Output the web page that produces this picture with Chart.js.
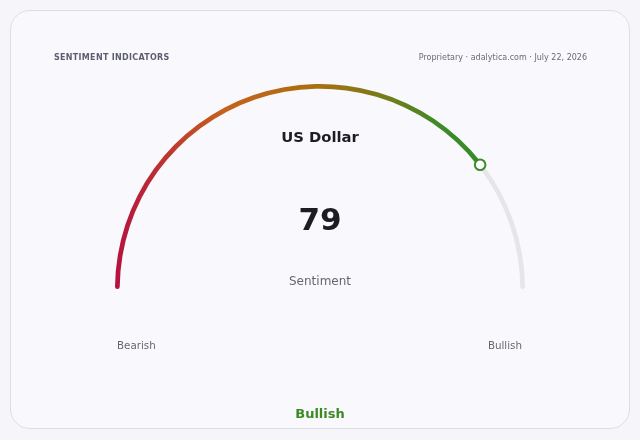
<!DOCTYPE html>
<html>
<head>
<meta charset="utf-8">
<script src="https://cdn.jsdelivr.net/npm/chart.js@4"></script>
<style>
  html, body { margin: 0; padding: 0; width: 640px; height: 440px; background: #f6f6fa; overflow: hidden; }
  body { position: relative; font-family: "DejaVu Sans", sans-serif; }
  .card { position: absolute; left: 10px; top: 10px; width: 618px; height: 417px;
          border: 1px solid #dddde6; border-radius: 20px; background: #f9f9fd; }
  #wrap { position: absolute; left: 0; top: 0; width: 640px; height: 440px; }
  .txt { position: absolute; white-space: nowrap; }
  .hdr { left: 54px; top: 53px; font-size: 8px; font-weight: bold; color: #5d5d70; letter-spacing: 0.3px; }
  .src { right: 53px; top: 53px; font-size: 8px; color: #6a6a78; }
  .name { left: 0; width: 640px; top: 128px; text-align: center; font-size: 14.8px; font-weight: bold; color: #1c1c22; }
  .val { left: 0; width: 640px; top: 201px; text-align: center; font-size: 31px; font-weight: bold; color: #1c1c22; }
  .lbl { left: 0; width: 640px; top: 274px; text-align: center; font-size: 12px; color: #66666e; }
  .lo { left: 117px; top: 339px; font-size: 10.3px; color: #66666e; }
  .hi { right: 118px; top: 339px; font-size: 10.3px; color: #66666e; }
  .verdict { left: 0; width: 640px; top: 406px; text-align: center; font-size: 13px; font-weight: bold; color: #3b8a22; }
</style>
</head>
<body>
<div class="card"></div>
<div id="wrap"><canvas id="gauge"></canvas></div>
<div class="txt hdr">SENTIMENT INDICATORS</div>
<div class="txt src">Proprietary · adalytica.com · July 22, 2026</div>
<div class="txt name" id="name"></div>
<div class="txt val" id="val"></div>
<div class="txt lbl">Sentiment</div>
<div class="txt lo" id="lo"></div>
<div class="txt hi" id="hi"></div>
<div class="txt verdict" id="verdict"></div>
<script>
// gauge data
const asset = 'US Dollar';
const sentiment = [79];
const scaleMax = [100];
const endLabels = ['Bearish', 'Bullish'];
const verdict = 'Bullish';

document.getElementById('name').textContent = asset;
document.getElementById('val').textContent = sentiment[0];
document.getElementById('lo').textContent = endLabels[0];
document.getElementById('hi').textContent = endLabels[1];
document.getElementById('verdict').textContent = verdict;

function arcColor(context) {
    if (context.dataIndex !== 0) return '#e5e5ea';
    const chart = context.chart;
    const area = chart.chartArea;
    if (!area) return '#3a8a2a';
    const g = chart.ctx.createLinearGradient(area.left, 0, area.right, 0);
    g.addColorStop(0, '#b5123f');
    g.addColorStop(0.12, '#bd3333');
    g.addColorStop(0.27, '#c6621a');
    g.addColorStop(0.5, '#a8700f');
    g.addColorStop(0.66, '#747c1a');
    g.addColorStop(0.8, '#3d8a28');
    g.addColorStop(1, '#2e8a2a');
    return g;
}

// ring marker at the end of the value arc
const markerPlugin = {
    id: 'marker',
    afterDatasetsDraw(chart) {
        const arc = chart.getDatasetMeta(0).data[0];
        if (!arc) return;
        const r = (arc.outerRadius + arc.innerRadius) / 2;
        const x = arc.x + Math.cos(arc.endAngle) * r;
        const y = arc.y + Math.sin(arc.endAngle) * r;
        const c = chart.ctx;
        c.save();
        c.beginPath();
        c.arc(x, y, 5.3, 0, Math.PI * 2);
        c.fillStyle = '#ffffff';
        c.fill();
        c.lineWidth = 2;
        c.strokeStyle = '#3a8a28';
        c.stroke();
        c.restore();
    }
};

new Chart(document.getElementById('gauge').getContext('2d'), {
    type: 'doughnut',
    data: {
        labels: ['Sentiment', 'Remaining'],
        datasets: [{
            data: [sentiment[0], scaleMax[0] - sentiment[0]],
            backgroundColor: arcColor,
            borderWidth: 0,
            borderRadius: 2.5
        }]
    },
    options: {
        responsive: true,
        maintainAspectRatio: false,
        animation: false,
        rotation: -90,
        circumference: 180,
        cutout: '97.7%',
        layout: { padding: { left: 115, right: 115, top: 84, bottom: 151 } },
        plugins: {
            legend: { display: false },
            tooltip: { enabled: false }
        }
    },
    plugins: [markerPlugin]
});
</script>
</body>
</html>
